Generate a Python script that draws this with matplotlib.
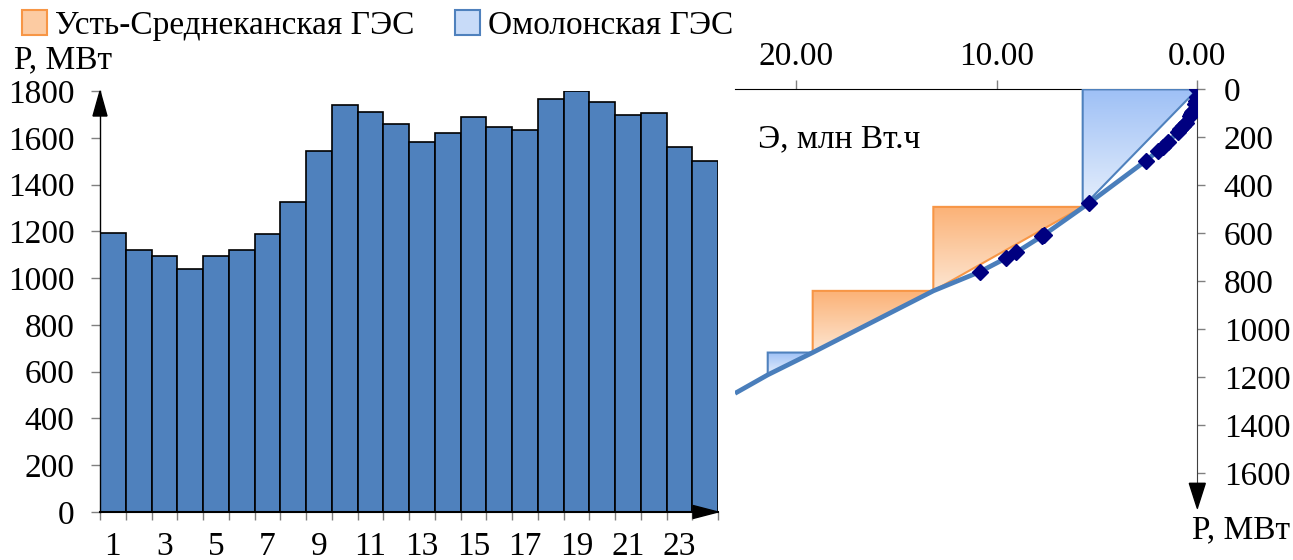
import numpy as np
import matplotlib
matplotlib.use("Agg")
import matplotlib.pyplot as plt
from matplotlib.patches import Polygon, Patch
from matplotlib.colors import LinearSegmentedColormap

plt.rcParams['font.family'] = ['Liberation Serif', 'DejaVu Serif']
plt.rcParams['font.size'] = 24

# Hourly load, MW
hours = np.arange(1, 25)
load = [1194, 1120, 1096, 1040, 1096, 1120, 1187, 1325, 1543, 1740, 1711, 1660,
        1582, 1620, 1687, 1646, 1633, 1766, 1800, 1753, 1697, 1706, 1560, 1502]

# Integral load curve: energy (mln) vs. depth below peak (MW)
curve_E = [0, 0.03, 0.06, 0.10, 0.22, 0.24, 0.29, 0.36, 0.58, 0.71, 0.84, 0.98,
           1.44, 1.72, 1.96, 2.57, 5.41, 7.63, 7.76, 9.03, 9.54, 10.82,
           13.15, 19.16, 21.40, 23.03]
curve_P = [0, 34, 47, 60, 89, 94, 103, 113, 140, 154, 167, 180,
           218, 240, 257, 298, 475, 606, 613, 680, 704, 760,
           840, 1097, 1190, 1267]
n_markers = 22

# Plant placement on the curve: (E, P) triangles
omolon_top = [(0, 0), (5.71, 0), (5.71, 490)]
usred_1 = [(5.71, 490), (13.15, 490), (13.15, 840)]
usred_2 = [(13.15, 840), (19.16, 840), (19.16, 1097)]
omolon_low = [(19.16, 1097), (21.40, 1097), (21.40, 1190)]

BAR = '#4F81BD'
ORANGE_EDGE = '#F79646'
BLUE_EDGE = '#4F81BD'
ORANGE_GRAD = ('#FBB277', '#FDE6D2')
BLUE_GRAD = ('#9EC0F6', '#E6EFFC')
TICK_GRAY = '#808080'

W, H = 1293, 560
fig = plt.figure(figsize=(W / 100, H / 100), dpi=100)


def frac(x, y):
    return x / W, 1 - y / H


# pixel frames of the two panels
L = dict(x0=100, x1=718, y0=91, y1=512)
R = dict(x0=735, x1=1197.3, y0=89.3, y1=508.3)

ax = fig.add_axes([L['x0'] / W, 1 - L['y1'] / H,
                   (L['x1'] - L['x0']) / W, (L['y1'] - L['y0']) / H])
ax2 = fig.add_axes([R['x0'] / W, 1 - R['y1'] / H,
                    (R['x1'] - R['x0']) / W, (R['y1'] - R['y0']) / H])

# ---- left: daily load bars
ax.bar(hours, load, width=1.0, color=BAR, edgecolor='black', linewidth=1.2, zorder=2)
ax.set_xlim(0.5, 24.5)
ax.set_ylim(0, 1800)
ax.set_yticks(range(0, 1801, 200))
ax.set_xticks(range(1, 24, 2))
ax.set_xticks(np.arange(0.5, 25, 1), minor=True)
ax.tick_params(axis='x', which='major', length=0, pad=14)
ax.tick_params(axis='x', which='minor', length=6, color=TICK_GRAY, width=1)
ax.tick_params(axis='y', length=6.5, color=TICK_GRAY, width=1, pad=12)
for s in ('top', 'right'):
    ax.spines[s].set_visible(False)
ax.spines['left'].set_linewidth(1)
ax.spines['bottom'].set_linewidth(1.5)
ax.patch.set_alpha(0)

# ---- right: integral load curve with plant placement
def gradient_poly(axis, verts, colors, edge):
    xs = [v[0] for v in verts]
    ys = [v[1] for v in verts]
    cmap = LinearSegmentedColormap.from_list('g', list(colors))
    grad = np.linspace(0, 1, 256)[:, None]
    im = axis.imshow(grad, cmap=cmap, origin='lower', aspect='auto',
                     extent=(min(xs), max(xs), min(ys), max(ys)),
                     interpolation='bilinear', zorder=2)
    poly = Polygon(verts, closed=True, facecolor='none', edgecolor=edge,
                   linewidth=1.5, zorder=3)
    axis.add_patch(poly)
    im.set_clip_path(poly)


gradient_poly(ax2, omolon_top, BLUE_GRAD, BLUE_EDGE)
gradient_poly(ax2, usred_1, ORANGE_GRAD, ORANGE_EDGE)
gradient_poly(ax2, usred_2, ORANGE_GRAD, ORANGE_EDGE)
gradient_poly(ax2, omolon_low, BLUE_GRAD, BLUE_EDGE)

ax2.plot(curve_E, curve_P, color='#4A7EBB', linewidth=3.4, zorder=4,
         solid_capstyle='butt')
ax2.plot(curve_E[:n_markers], curve_P[:n_markers], linestyle='none', marker='D',
         markersize=8, color='#000080', zorder=5)

ax2.set_xlim(23.03, 0)
ax2.set_ylim(1746, 0)
ax2.xaxis.tick_top()
ax2.yaxis.tick_right()
ax2.set_xticks([0, 10, 20])
ax2.set_xticklabels(['0.00', '10.00', '20.00'])
ax2.set_yticks(range(0, 1601, 200))
ax2.tick_params(axis='x', length=6.5, color=TICK_GRAY, width=1, pad=6)
ax2.tick_params(axis='y', length=6, color=TICK_GRAY, width=1, pad=13)
for s in ('left', 'bottom'):
    ax2.spines[s].set_visible(False)
ax2.spines['top'].set_color('black')
ax2.spines['right'].set_color('#404040')
ax2.patch.set_alpha(0)

# ---- axis arrows
def arrow(tip, base_a, base_b):
    pts = [frac(*tip), frac(*base_a), frac(*base_b)]
    fig.patches.append(Polygon(pts, closed=True, transform=fig.transFigure,
                               facecolor='black', edgecolor='black', zorder=10))


arrow((L['x0'], L['y0']), (L['x0'] - 7, L['y0'] + 25), (L['x0'] + 7, L['y0'] + 25))
arrow((L['x1'], L['y1']), (L['x1'] - 25, L['y1'] - 6.5), (L['x1'] - 25, L['y1'] + 6.5))
arrow((R['x1'], R['y1']), (R['x1'] - 8, R['y1'] - 25), (R['x1'] + 8, R['y1'] - 25))

# ---- axis titles
fig.text(*frac(14, 68), 'P, МВт', va='baseline', ha='left')
fig.text(*frac(1192, 538), 'P, МВт', va='baseline', ha='left')
fig.text(*frac(758, 147), 'Э, млн Вт.ч', va='baseline', ha='left')

# ---- legend
handles = [Patch(facecolor='#FCCBA2', edgecolor=ORANGE_EDGE, linewidth=1.5,
                 label='Усть-Среднеканская ГЭС'),
           Patch(facecolor='#C8DBF8', edgecolor=BLUE_EDGE, linewidth=1.5,
                 label='Омолонская ГЭС')]
fig.legend(handles=handles, loc='upper left', bbox_to_anchor=frac(2, -10), ncol=2,
           frameon=False, handlelength=0.75, handleheight=0.8, handletextpad=0.25,
           columnspacing=1.2, borderpad=0.1, fontsize=24)

fig.savefig('out.png', dpi=100)
